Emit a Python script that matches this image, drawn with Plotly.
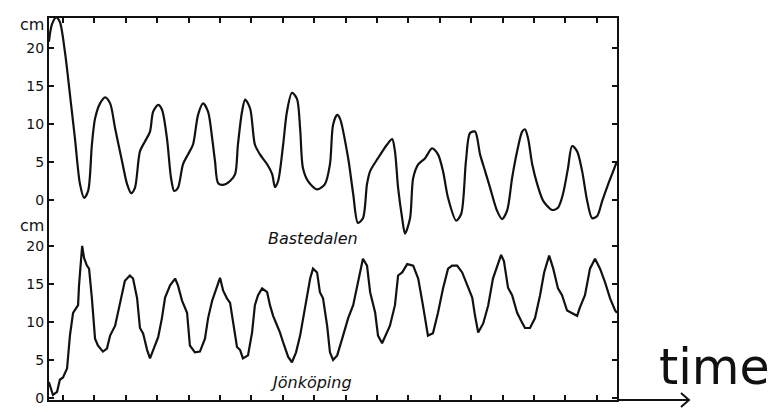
import plotly.graph_objects as go

# time in tick intervals (ticks at 1..18), water level in cm
bast_t = [0.55, 0.65, 0.78, 0.90, 1.06, 1.22, 1.38, 1.54, 1.67, 1.80, 1.92, 2.02, 2.18, 2.34, 2.50,
          2.66, 2.88, 3.04, 3.17, 3.29, 3.45, 3.61, 3.77, 3.87, 4.03, 4.15, 4.31, 4.44, 4.54, 4.66,
          4.82, 4.98, 5.14, 5.30, 5.46, 5.62, 5.75, 5.84, 5.94, 6.10, 6.32, 6.48, 6.57, 6.70, 6.80,
          6.96, 7.11, 7.27, 7.50, 7.66, 7.75, 7.85, 8.01, 8.13, 8.29, 8.45, 8.55, 8.64, 8.80, 9.09,
          9.34, 9.50, 9.60, 9.73, 9.82, 10.08, 10.24, 10.39, 10.55, 10.68, 10.78, 11.03, 11.32, 11.48,
          11.57, 11.67, 11.80, 11.89, 12.05, 12.15, 12.31, 12.53, 12.75, 12.94, 13.10, 13.26, 13.52,
          13.68, 13.83, 13.96, 14.12, 14.28, 14.44, 14.60, 14.82, 14.98, 15.14, 15.30, 15.46, 15.62,
          15.71, 15.81, 15.94, 16.10, 16.29, 16.57, 16.76, 16.92, 17.08, 17.21, 17.37, 17.53, 17.69,
          17.85, 18.01, 18.17, 18.36, 18.52, 18.64]
bast_cm = [20.8, 23.1, 24.0, 23.4, 19.5, 13.9, 8.1, 2.1, 0.3, 1.2, 7.3, 10.7, 12.7, 13.5, 12.7,
           9.4, 5.1, 2.1, 0.9, 1.6, 6.4, 7.7, 9.0, 11.6, 12.5, 11.9, 8.1, 2.9, 1.2, 1.6,
           4.7, 6.0, 7.3, 11.2, 12.7, 11.6, 8.1, 5.1, 2.2, 2.0, 2.5, 3.4, 7.3, 11.6, 13.2,
           12.0, 7.3, 6.0, 4.7, 3.4, 1.7, 2.5, 7.3, 11.6, 14.1, 13.3, 9.4, 4.2, 2.5, 1.4,
           2.1, 4.7, 9.9, 11.2, 10.7, 5.5, 0.8, -3.0, -2.4, 2.1, 3.8, 5.5, 7.3, 8.0,
           6.4, 1.6, -2.4, -4.4, -2.4, 2.9, 4.7, 5.5, 6.8, 6.0, 3.8, 0.3, -2.7,
           -1.8, 5.1, 8.8, 9.0, 6.0, 3.8, 1.6, -1.4, -2.5, -1.4, 2.9, 6.4, 9.0,
           9.3, 8.1, 4.7, 2.1, -0.1, -1.3, -1.0, 0.8, 4.2, 7.1, 6.4, 3.8, -0.1,
           -2.4, -2.1, -0.1, 2.1, 3.8, 5.1]

jonk_t = [0.55, 0.68, 0.81, 0.90, 1.00, 1.13, 1.22, 1.32, 1.48, 1.51, 1.61, 1.67, 1.76, 1.83, 1.92,
          2.02, 2.11, 2.27, 2.40, 2.50, 2.66, 2.82, 2.97, 3.13, 3.23, 3.36, 3.45, 3.55, 3.68, 3.77,
          3.87, 4.03, 4.15, 4.25, 4.41, 4.57, 4.66, 4.79, 4.95, 5.04, 5.20, 5.36, 5.52, 5.62, 5.75,
          5.90, 6.00, 6.10, 6.22, 6.32, 6.41, 6.54, 6.64, 6.73, 6.89, 7.02, 7.11, 7.21, 7.34, 7.50,
          7.59, 7.69, 7.82, 7.91, 8.01, 8.17, 8.29, 8.42, 8.55, 8.71, 8.87, 8.96, 9.09, 9.18, 9.28,
          9.41, 9.50, 9.60, 9.73, 9.89, 10.08, 10.24, 10.39, 10.55, 10.68, 10.78, 10.94, 11.03, 11.16,
          11.25, 11.41, 11.57, 11.67, 11.80, 11.96, 12.15, 12.31, 12.46, 12.62, 12.78, 12.94, 13.10,
          13.26, 13.39, 13.55, 13.71, 13.87, 14.03, 14.12, 14.22, 14.38, 14.54, 14.69, 14.89, 14.95,
          15.04, 15.17, 15.30, 15.46, 15.62, 15.71, 15.87, 16.03, 16.19, 16.32, 16.48, 16.61, 16.76,
          16.89, 17.05, 17.21, 17.37, 17.46, 17.62, 17.78, 17.94, 18.10, 18.26, 18.42, 18.58, 18.64]
jonk_cm = [2.1, 0.4, 0.8, 2.4, 2.7, 3.9, 8.2, 11.2, 12.2, 14.8, 20.0, 18.4, 17.4, 17.0, 13.1,
           7.8, 6.9, 6.1, 6.5, 8.2, 9.5, 12.5, 15.4, 16.1, 15.7, 13.1, 9.2, 8.5, 6.3, 5.2,
           6.3, 8.0, 10.5, 13.2, 14.8, 15.7, 14.8, 12.8, 11.2, 6.9, 6.0, 6.1, 7.8, 10.5, 12.8,
           14.5, 15.8, 14.1, 13.1, 12.5, 9.9, 6.7, 6.3, 5.2, 5.6, 8.6, 12.2, 13.5, 14.4, 13.9,
           12.2, 10.8, 9.5, 8.6, 7.3, 5.4, 4.7, 6.0, 8.2, 11.8, 15.7, 17.0, 16.5, 13.9, 13.1,
           9.5, 6.0, 5.0, 5.6, 7.8, 10.5, 12.2, 15.2, 18.3, 17.4, 13.9, 11.2, 8.2, 7.2,
           8.0, 9.5, 12.2, 16.1, 16.5, 17.6, 17.4, 15.7, 12.2, 8.2, 8.5, 11.2, 14.4,
           17.0, 17.4, 17.4, 16.5, 14.8, 13.2, 10.8, 8.6, 9.8, 12.2, 15.7, 18.3, 18.8,
           18.0, 14.5, 13.5, 11.2, 9.9, 9.2, 9.2, 10.5, 13.5, 16.5, 18.7, 17.0, 14.4,
           13.5, 11.5, 11.2, 10.8, 11.9, 13.5, 17.0, 18.3, 17.0, 15.2, 13.1, 11.5, 11.2]

y_ticks = [0, 5, 10, 15, 20]
y_ticktext = ["0", "5", "10", "15", "20"]
x_ticks = list(range(1, 19))

FONT = "DejaVu Sans"
INK = "#111111"

fig = go.Figure()
fig.add_trace(go.Scatter(x=jonk_t, y=jonk_cm, mode="lines", yaxis="y",
                         line=dict(color=INK, width=2.2), showlegend=False, hoverinfo="skip"))
fig.add_trace(go.Scatter(x=bast_t, y=bast_cm, mode="lines", yaxis="y2",
                         line=dict(color=INK, width=2.2, shape="spline", smoothing=0.8),
                         showlegend=False, hoverinfo="skip"))

axis_common = dict(showgrid=False, zeroline=False, showline=True, linecolor=INK, linewidth=2,
                   ticks="inside", tickcolor=INK, tickwidth=1.5, ticklen=5, mirror="ticks",
                   tickfont=dict(family=FONT, size=14, color=INK))
x_axis_style = {k: v for k, v in axis_common.items() if k != "tickfont"}

# page body has an 8px margin; the figure is sized so the plot area sits at x 49-617, y 16-400
fig.update_layout(
    width=775, height=409,
    margin=dict(l=41, r=166, t=8, b=17),
    paper_bgcolor="white", plot_bgcolor="white",
    xaxis=dict(range=[0.554, 18.64], tickvals=x_ticks, showticklabels=False, **x_axis_style),
    yaxis=dict(range=[-0.26, 49.93], tickvals=y_ticks, ticktext=y_ticktext, **axis_common),
    yaxis2=dict(range=[-26.27, 23.92], tickvals=y_ticks, ticktext=y_ticktext, overlaying="y", side="left", **axis_common),
    annotations=[
        dict(text="cm", xref="paper", yref="paper", x=-0.005, y=(400 - 23) / 384, xanchor="right", yanchor="middle",
             showarrow=False, font=dict(family=FONT, size=16, color=INK)),
        dict(text="cm", xref="paper", yref="paper", x=-0.005, y=(400 - 225) / 384, xanchor="right", yanchor="middle",
             showarrow=False, font=dict(family=FONT, size=16, color=INK)),
        dict(text="<i>Bastedalen</i>", xref="x", yref="y", x=8.96, y=21.0, showarrow=False,
             font=dict(family=FONT, size=16, color=INK)),
        dict(text="<i>Jönköping</i>", xref="x", yref="y", x=8.90, y=2.1, showarrow=False,
             font=dict(family=FONT, size=16, color=INK)),
        dict(text="time", xref="paper", yref="paper", x=(714 - 49) / 568, y=(400 - 367) / 384,
             xanchor="center", yanchor="middle", showarrow=False,
             font=dict(family=FONT, size=49, color=INK)),
    ],
    shapes=[
        dict(type="line", xref="paper", yref="paper", x0=1.0, y0=0, x1=(689 - 49) / 568, y1=0,
             line=dict(color=INK, width=2)),
        dict(type="path", xref="paper", yref="paper",
             path="M {a},{b} L {c},0 L {a},{d}".format(a=(681 - 49) / 568, b=7 / 384, c=(689 - 49) / 568, d=-7 / 384),
             line=dict(color=INK, width=2)),
    ],
)

fig.write_html("out.html")
